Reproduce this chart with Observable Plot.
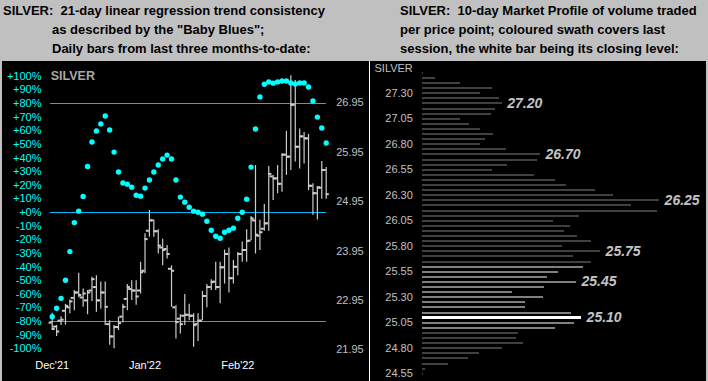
<!DOCTYPE html>
<html>
<head>
<meta charset="utf-8">
<script src="https://cdn.jsdelivr.net/npm/d3@7"></script>
<script src="https://cdn.jsdelivr.net/npm/@observablehq/plot@0.6"></script>
<style>
  html, body { margin: 0; padding: 0; }
  body { width: 708px; height: 381px; background: #c0c0c0; position: relative; overflow: hidden;
         font-family: "Liberation Sans", Arial, sans-serif; }
  .title { position: absolute; font-weight: bold; font-size: 13px; line-height: 19px; white-space: pre; color: #000; }
  .panel { position: absolute; background: #000; }
  .layer { position: absolute; }
  .layer svg { display: block; overflow: visible; }
</style>
</head>
<body>
<div class="title" style="left:3px; top:1px;">SILVER:  21-day linear regression trend consistency</div>
<div class="title" style="left:52px; top:20px;">as described by the "Baby Blues";
Daily bars from last three months-to-date:</div>
<div class="title" style="left:400px; top:1px;">SILVER:  10-day Market Profile of volume traded
per price point; coloured swath covers last
session, the white bar being its closing level:</div>

<div class="panel" style="left:2px; top:61px; width:367px; height:320px;"></div>
<div class="panel" style="left:369px; top:61px; width:1px; height:320px; background:#ffffff;"></div>
<div class="panel" style="left:370px; top:61px; width:336px; height:320px;"></div>

<div id="l1" class="layer" style="left:0; top:61px;"></div>
<div id="l2" class="layer" style="left:0; top:61px;"></div>
<div id="l3" class="layer" style="left:0; top:61px;"></div>
<div id="r1" class="layer" style="left:370px; top:61px;"></div>

<script>
// ---------- Left panel data: daily bars (Dec'21 .. Feb'22) ----------
const monthLabels = ["Dec'21", "Jan'22", "Feb'22"];
const monthStart = [0, 21, 42];   // bar index where each month starts

const open  = [22.50,22.42,22.54,22.74,22.81,23.00,23.11,23.01,22.95,23.15,23.22,22.95,23.11,22.47,22.22,22.41,22.62,22.98,23.18,23.15,23.15,
               23.55,24.36,24.57,24.35,24.02,23.99,23.59,22.81,22.58,22.64,22.66,22.64,22.47,22.54,23.04,23.22,23.33,23.22,23.62,23.89,23.40,
               23.63,23.89,23.97,24.16,24.57,24.26,24.40,24.51,25.46,25.42,25.31,25.90,25.86,26.91,26.06,26.27,26.23,25.27,25.12,25.23,25.59];
const high  = [22.69,22.44,22.62,22.87,22.96,23.15,23.50,23.18,23.15,23.42,23.45,23.32,23.32,22.54,22.44,22.61,22.87,23.27,23.35,23.35,23.72,
               24.30,24.77,24.58,24.38,24.19,24.06,23.65,22.84,22.66,23.07,22.87,22.68,22.68,23.13,23.27,23.37,23.72,23.72,23.97,24.01,23.76,
               23.92,24.13,24.38,24.65,25.68,24.57,24.89,25.66,25.48,25.68,25.92,26.37,27.50,27.40,26.42,26.35,26.31,25.31,25.25,25.76,25.64];
const low   = [22.36,22.22,22.44,22.45,22.68,22.74,23.01,22.81,22.66,22.93,22.71,22.77,22.44,22.04,21.97,22.34,22.49,22.74,22.95,22.85,23.08,
               23.49,24.23,24.23,23.89,23.65,23.79,22.81,22.17,22.27,22.44,22.54,22.00,22.12,22.54,22.80,23.15,23.15,22.88,23.28,23.10,23.28,
               23.45,23.72,23.72,24.16,23.89,23.96,24.35,24.35,24.97,25.11,25.14,25.48,25.58,25.75,25.61,25.71,25.17,24.67,24.58,25.00,25.00];
const close = [22.37,22.32,22.56,22.84,22.93,23.11,23.06,23.09,23.11,23.38,22.95,23.11,22.82,22.22,22.41,22.49,22.82,23.22,23.15,23.03,23.52,
               24.19,24.57,24.35,24.06,23.97,23.89,23.55,22.51,22.47,22.66,22.64,22.45,22.54,23.04,23.22,23.32,23.22,23.62,23.89,23.40,23.63,
               23.89,23.97,24.15,24.61,24.28,24.33,24.51,25.51,25.42,25.31,25.90,25.86,26.91,26.06,26.27,26.23,25.27,25.12,25.24,25.59,25.10];
// "Baby Blues": 21-day linear regression trend consistency (%)
const trend = [-76.5,-70.3,-63,-49.7,-28.7,-7.4,1,11.8,33.8,51.7,59.8,65,70.8,60.5,44.3,29.7,21.6,20.8,18.6,12.7,12,
               17.9,23.8,29.7,34.8,39.2,42.1,39.2,23.8,11.3,7.6,3.9,1,0.2,-1.2,-6.4,-13,-17.4,-18.9,-14.5,-13,-11.5,
               -4.2,0.2,9.8,33.3,61.3,84.8,94.1,95.8,94.9,95.8,96.5,96.5,95.1,94.3,95.1,95.1,92.1,81.8,70,62,51];
const pctTicks = [100,90,80,70,60,50,40,30,20,10,0,-10,-20,-30,-40,-50,-60,-70,-80,-90,-100];
const pctLevels = [80, 0, -80];
const priceTicks = [26.95, 25.95, 24.95, 23.95, 22.95, 21.95];

// ---------- Right panel data: 10-day market profile ----------
const profPrice = [27.50,27.45,27.40,27.35,27.30,27.25,27.20,27.15,27.10,27.05,27.00,26.95,26.90,26.85,26.80,26.75,26.70,26.65,26.60,26.55,
                   26.50,26.45,26.40,26.35,26.30,26.25,26.20,26.15,26.10,26.05,26.00,25.95,25.90,25.85,25.80,25.75,25.70,25.65,25.60,25.55,
                   25.50,25.45,25.40,25.35,25.30,25.25,25.20,25.15,25.10,25.05,25.00,24.95,24.90,24.85,24.80,24.75,24.70,24.65,24.60,24.55];
const profVol   = [0.6,5.4,15.8,29.1,24.1,32.0,33.1,30.3,28.7,15.8,19.5,24.1,29.4,26.2,24.1,34.9,49.0,47.7,35.2,29.0,
                   46.5,55.3,59.8,71.9,79.4,98.5,86.8,97.6,65.2,54.4,61.5,59.0,64.4,70.2,58.2,74.0,62.7,70.2,66.9,56.5,
                   51.9,64.0,50.7,37.4,50.3,42.8,42.8,61.9,66.1,63.1,55.3,39.9,39.1,42.0,33.2,23.7,19.1,10.8,1.2,0.4];
const profTicks = [27.30,27.05,26.80,26.55,26.30,26.05,25.80,25.55,25.30,25.05,24.80,24.55];
const profLabels = [27.20, 26.70, 26.25, 25.75, 25.45, 25.10];
const lastSessionLow = 25.00, lastSessionHigh = 25.60, lastClose = 25.10;

// ---------- build tables ----------
const bars = open.map((o, i) => ({i, open: o, high: high[i], low: low[i], close: close[i]}));
const dots = trend.map((v, i) => ({i, v}));
const profile = profPrice.map((p, k) => ({price: p, vol: profVol[k]}));
const eq = (a, b) => Math.abs(a - b) < 1e-6;

const FONT = '"Liberation Sans", Arial, sans-serif';
const W = 369, H = 320;
const M = {marginLeft: 51.7, marginRight: 43.3};
const X = {domain: [0, 62], axis: null, label: null};
const CYAN = "#00ffff", LINE = "#00b8f8", GREY = "#cccccc";

// Layer 1: percent scale (lines, axes, label)
const p1 = Plot.plot({
  width: W, height: H, ...M, marginTop: 14.7, marginBottom: 32.7,
  x: X, y: {domain: [-100, 100], axis: null, label: null},
  style: {background: "transparent", fontFamily: FONT, fontSize: "11px", color: GREY},
  marks: [
    Plot.ruleY(pctLevels, {stroke: LINE, strokeWidth: 1.3, insetLeft: -2, shapeRendering: "crispEdges"}),
    Plot.axisY(pctTicks, {anchor: "left", label: null, tickSize: 0, tickPadding: 10.7, fill: CYAN, fontSize: 11,
      tickFormat: d => (d >= 0 ? "+" : "") + d + "%"}),
    Plot.axisX(monthStart, {anchor: "bottom", label: null, tickSize: 0, tickPadding: 12.5, fill: "#ffffff", fontSize: 11,
      tickFormat: d => monthLabels[monthStart.indexOf(d)]}),
    Plot.text(["SILVER"], {frameAnchor: "top-left", textAnchor: "start", lineAnchor: "middle", dx: -1.5,
      fill: "#a8a8a8", fontWeight: "bold", fontSize: 12.5})
  ]
});
document.getElementById("l1").append(p1);

// Layer 2: price scale (OHLC bars, right axis)
const p2 = Plot.plot({
  width: W, height: H, ...M, marginTop: 41.3, marginBottom: 31.7,
  x: X, y: {domain: [21.95, 26.95], axis: null, label: null},
  style: {background: "transparent", fontFamily: FONT, fontSize: "11px", color: GREY},
  marks: [
    Plot.ruleX(bars, {x: "i", y1: "low", y2: "high", stroke: GREY, strokeWidth: 1.2}),
    Plot.ruleY(bars, {y: "open", x1: d => d.i - 0.7, x2: "i", stroke: GREY, strokeWidth: 2}),
    Plot.ruleY(bars, {y: "close", x1: "i", x2: d => d.i + 0.7, stroke: GREY, strokeWidth: 2}),
    Plot.axisY(priceTicks, {anchor: "right", label: null, tickSize: 0, tickPadding: 10, fill: "#c0c0c0", fontSize: 11,
      tickFormat: d => d.toFixed(2)})
  ]
});
document.getElementById("l2").append(p2);

// Layer 3: percent scale dots on top
const p3 = Plot.plot({
  width: W, height: H, ...M, marginTop: 14.7, marginBottom: 32.7,
  x: X, y: {domain: [-100, 100], axis: null, label: null},
  style: {background: "transparent"},
  marks: [
    Plot.dot(dots, {x: "i", y: "v", r: 2.7, fill: CYAN, stroke: null})
  ]
});
document.getElementById("l3").append(p3);

// Right panel: market profile
const inSwath = d => d.price >= lastSessionLow - 1e-6 && d.price <= lastSessionHigh + 1e-6;
const r1 = Plot.plot({
  width: 336, height: H, marginLeft: 52, marginRight: 43.3, marginTop: 31.7, marginBottom: 7.7,
  x: {domain: [0, 100], axis: null, label: null}, y: {domain: [24.55, 27.30], axis: null, label: null},
  style: {background: "transparent", fontFamily: FONT, fontSize: "11px", color: GREY},
  marks: [
    Plot.ruleY(profile.filter(d => !inSwath(d)), {y: "price", x1: 0, x2: "vol", stroke: "#404040", strokeWidth: 2, shapeRendering: "crispEdges"}),
    Plot.ruleY(profile.filter(d => inSwath(d) && !eq(d.price, lastClose)), {y: "price", x1: 0, x2: "vol", stroke: "#808080", strokeWidth: 2, shapeRendering: "crispEdges"}),
    Plot.ruleY(profile.filter(d => eq(d.price, lastClose)), {y: "price", x1: 0, x2: "vol", stroke: "#ffffff", strokeWidth: 3, shapeRendering: "crispEdges"}),
    Plot.axisY(profTicks, {anchor: "left", label: null, tickSize: 0, tickPadding: 9.7, fill: "#c0c0c0", fontSize: 11,
      tickFormat: d => d.toFixed(2)}),
    Plot.text(profile.filter(d => profLabels.some(p => eq(p, d.price))), {x: "vol", y: "price", text: d => d.price.toFixed(2),
      dx: 5, textAnchor: "start", lineAnchor: "middle", fill: "#c4c4c4", fontWeight: "bold", fontStyle: "italic", fontSize: 14})
    ,
    Plot.text(["SILVER"], {frameAnchor: "top-left", textAnchor: "end", lineAnchor: "middle", dx: -9.7, dy: -24.4,
      fill: "#c0c0c0", fontSize: 11})
  ]
});
document.getElementById("r1").append(r1);
</script>
</body>
</html>
